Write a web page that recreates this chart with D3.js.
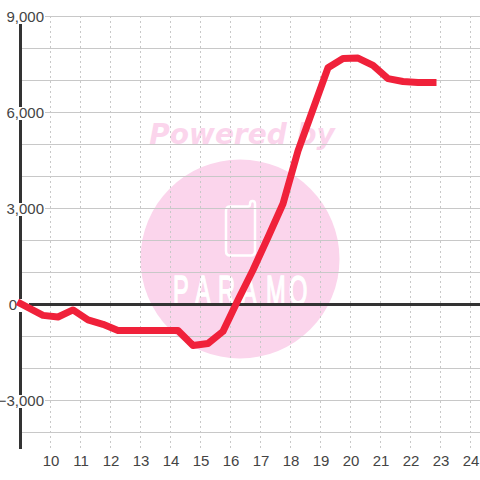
<!DOCTYPE html>
<html><head><meta charset="utf-8">
<script src="https://cdn.jsdelivr.net/npm/d3@7"></script>
<style>html,body{margin:0;padding:0;background:#fff}svg{display:block}text{font-family:"Liberation Sans",Arial,sans-serif}</style>
</head><body><div id="c"></div>
<script>
const hours=[9,9.75,10.25,10.75,11.25,11.75,12.25,12.75,13.25,13.75,14.25,14.75,15.25,15.75,16.25,16.75,17.25,17.75,18.25,18.75,19.25,19.75,20.25,20.75,21.25,21.75,22.25,22.75];
const values=[30,-340,-390,-170,-480,-620,-810,-810,-810,-810,-810,-1280,-1220,-840,140,1080,2100,3150,4800,6100,7400,7690,7700,7470,7060,6970,6940,6940];
const xTicks=[10,11,12,13,14,15,16,17,18,19,20,21,22,23,24];
const yGrid=[9000,8000,7000,6000,5000,4000,3000,2000,1000,-1000,-2000,-3000,-4000];
const yLabels=[9000,6000,3000,0,-3000];
const poweredText="Powered by";
const brandLetters=["P","A","R","A","M","O"];
const brandLeft=[173,195,218,241,266,289];
const W=480,H=480;
const x=d3.scaleLinear().domain([9,24]).range([20.5,470.5]);
const y=d3.scaleLinear().domain([9000,-4500]).range([16.5,448.5]);
const svg=d3.select("#c").append("svg").attr("width",W).attr("height",H);
// watermark
svg.append("circle").attr("cx",240).attr("cy",259).attr("r",99.5).attr("fill","#fbd5ec");
svg.append("text").text(poweredText).attr("x",242).attr("y",144).attr("text-anchor","middle")
 .style("font-family","'DejaVu Sans'").attr("font-size",28).attr("font-weight","bold").attr("font-style","italic").attr("fill","#fbd5ec");
svg.append("path").attr("d","M230 206.5 H248 Q250 206.5 250 204 Q250 201 252.5 201 Q255 201 255 204 V251 Q255 255.5 251 255.5 H230 Q226 255.5 226 251 V211 Q226 206.5 230 206.5 Z")
 .attr("fill","none").attr("stroke","#fff").attr("stroke-width",2.5);
const sx=.55;
svg.append("text").attr("transform",`translate(0,305) scale(${sx},1)`)
 .attr("x",brandLeft.map(d=>d/sx).join(" ")).attr("y",0)
 .attr("font-size",43).attr("fill","#fff").attr("stroke","#fff").attr("stroke-width",1.5)
 .text(brandLetters.join(""));
// grid
svg.append("g").selectAll("line").data(yGrid).join("line")
 .attr("x1",20).attr("x2",W).attr("y1",d=>y(d)).attr("y2",d=>y(d))
 .attr("stroke","#c8c8c8").attr("stroke-width",1);
svg.append("g").selectAll("line").data(xTicks).join("line")
 .attr("x1",d=>x(d)).attr("x2",d=>x(d)).attr("y1",16).attr("y2",448)
 .attr("stroke","#c8c8c8").attr("stroke-width",1).attr("stroke-dasharray","2 3");
// axes
svg.append("line").attr("x1",x(9)).attr("x2",x(9)).attr("y1",16).attr("y2",449).attr("stroke","#333").attr("stroke-width",3);
svg.append("line").attr("x1",20).attr("x2",W).attr("y1",y(0)).attr("y2",y(0)).attr("stroke","#333").attr("stroke-width",3);
// y labels with white backing
const yl=svg.append("g").selectAll("g").data(yLabels).join("g");
yl.append("rect").attr("x",d=>d===0?7:1).attr("y",d=>y(d)-5.5).attr("width",d=>d===0?22:44).attr("height",13).attr("fill","#fff");
yl.append("text").text(d=>d3.format(",")(d)).attr("x",d=>d===0?17:44).attr("y",d=>y(d)+5).attr("text-anchor","end")
 .attr("font-size",15).attr("fill","#444");
// x labels
svg.append("g").selectAll("text").data(xTicks).join("text").text(d=>d)
 .attr("x",d=>x(d)+.5).attr("y",466).attr("text-anchor","middle").attr("font-size",15).attr("fill","#444");
// series
const line=d3.line().x((d,i)=>x(hours[i])).y(d=>y(d));
svg.append("path").datum(values).attr("d",line).attr("fill","none").attr("stroke","#f0213a")
 .attr("stroke-width",7).attr("stroke-linecap","square").attr("stroke-linejoin","round");
</script></body></html>
